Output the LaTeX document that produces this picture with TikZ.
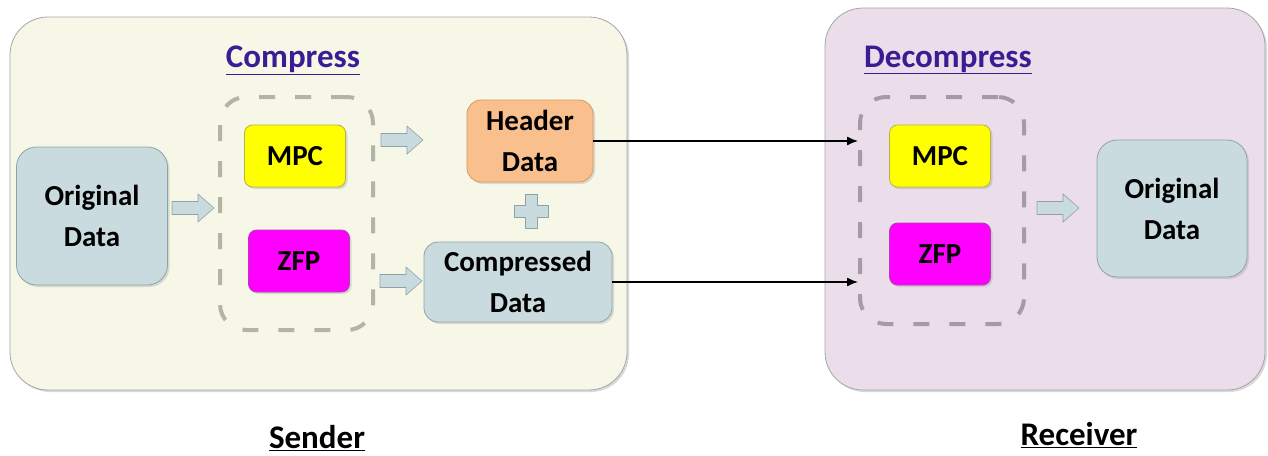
\documentclass[tikz,border=0pt]{standalone}
\usepackage{fontspec}
\setmainfont{Carlito}
\usetikzlibrary{arrows.meta, shadows}

\definecolor{sendbg}{HTML}{F7F7E7}
\definecolor{recvbg}{HTML}{EBDEEA}
\definecolor{databg}{HTML}{C9DBDF}
\definecolor{databd}{HTML}{8EA3A8}
\definecolor{hdrorg}{HTML}{F9BF8C}
\definecolor{hdrbd}{HTML}{D39A68}
\definecolor{mpcyel}{HTML}{FFFF00}
\definecolor{mpcbd}{HTML}{B8B04A}
\definecolor{zfpmag}{HTML}{FF00FF}
\definecolor{zfpbd}{HTML}{B040B0}
\definecolor{dashL}{HTML}{B4B4A6}
\definecolor{dashR}{HTML}{A898A8}
\definecolor{titlecol}{HTML}{3B1C94}

\tikzstyle{panel} = [rectangle, rounded corners=38pt, draw=gray!70, line width=0.8pt, drop shadow={opacity=0.3, shadow xshift=2pt, shadow yshift=-2pt}]
\tikzstyle{process} = [rectangle, rounded corners=14pt, align=center, text centered, line width=0.8pt, font=\bfseries\fontsize{29}{41}\selectfont, drop shadow={opacity=0.25, shadow xshift=2pt, shadow yshift=-2pt}]
\tikzstyle{algo} = [process, rounded corners=8pt, minimum width=101pt, minimum height=62pt]
\tikzstyle{group} = [rectangle, rounded corners=26pt, line width=4pt, dash pattern=on 16pt off 20pt]
\tikzstyle{blockfill} = [fill=databg, draw=databd, line width=0.6pt]
\tikzstyle{heading} = [font=\bfseries\fontsize{33}{40}\selectfont, text=titlecol]
\tikzstyle{caption} = [font=\bfseries\fontsize{33}{40}\selectfont]
\tikzstyle{arrow} = [line width=1.3pt, -{Latex[length=11pt, width=9pt]}]
\tikzset{pics/blkarrow/.style={code={
  \draw [blockfill] (-21,-6.5) -- (5,-6.5) -- (5,-14) -- (21,0) -- (5,14) -- (5,6.5) -- (-21,6.5) -- cycle;}}}

\begin{document}
\begin{tikzpicture}[x=1pt, y=-1pt]
\useasboundingbox (0,0) rectangle (1268,455);

% Panels
\node (sendP) [panel, fill=sendbg, minimum width=617pt, minimum height=373pt] at (318.5,203.5) {};
\node (recvP) [panel, fill=recvbg, minimum width=440pt, minimum height=382pt] at (1045,199) {};

% Titles
\node (cmpT) [heading] at (293,60) {\underline{Compress}};
\node (dcmT) [heading] at (948,60) {\underline{Decompress}};
\node (sndT) [caption] at (317,438) {\underline{Sender}};
\node (rcvT) [caption] at (1079,435) {\underline{Receiver}};

% Sender side
\node (dashL) [group, draw=dashL, minimum width=153pt, minimum height=233pt] at (296.5,213.5) {};
\node (origL) [process, fill=databg, draw=databd, minimum width=151pt, minimum height=138pt, rounded corners=20pt] at (92,216) {Original\\Data};
\node (mpcL) [algo, fill=mpcyel, draw=mpcbd] at (295,156) {MPC};
\node (zfpL) [algo, fill=zfpmag, draw=zfpbd] at (299,261) {ZFP};
\node (hdr) [process, fill=hdrorg, draw=hdrbd, minimum width=126pt, minimum height=82pt] at (530,141) {Header\\Data};
\node (cmp) [process, fill=databg, draw=databd, minimum width=188pt, minimum height=80pt] at (518,282) {Compressed\\Data};
\pic (barA) at (193,208) {blkarrow};
\pic (barB) at (402,140) {blkarrow};
\pic (barC) at (401,281) {blkarrow};

% Plus sign
\coordinate (plus) at (531,211);
\draw [blockfill] ([shift={(-6,-17)}]plus) -- ++(12,0) -- ++(0,11) -- ++(11,0) -- ++(0,12) -- ++(-11,0) -- ++(0,11) -- ++(-12,0) -- ++(0,-11) -- ++(-11,0) -- ++(0,-12) -- ++(11,0) -- cycle;

% Receiver side
\node (dashR) [group, draw=dashR, minimum width=164pt, minimum height=227pt] at (942,210.5) {};
\node (mpcR) [algo, fill=mpcyel, draw=mpcbd] at (940,156) {MPC};
\node (zfpR) [algo, fill=zfpmag, draw=zfpbd] at (940,254) {ZFP};
\pic (barD) at (1058,208) {blkarrow};
\node (origR) [process, fill=databg, draw=databd, minimum width=150pt, minimum height=137pt, rounded corners=20pt] at (1172,208.5) {Original\\Data};

% Connecting arrows
\draw [arrow] (hdr.east) -- (hdr.east -| dashR.west);
\draw [arrow] (cmp.east) -- (cmp.east -| dashR.west);

\end{tikzpicture}
\end{document}
